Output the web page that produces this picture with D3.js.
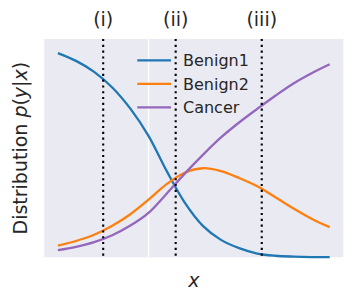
<!DOCTYPE html>
<html>
<head>
<meta charset="utf-8">
<script src="https://cdn.jsdelivr.net/npm/d3@7"></script>
<style>
  html, body { margin: 0; padding: 0; background: #fff; }
  svg { display: block; font-family: "DejaVu Sans", sans-serif; }
</style>
</head>
<body>
<svg id="chart"></svg>
<script>
// Values
const xs = [-1.0, -0.8, -0.6, -0.4, -0.2, 0.0, 0.2, 0.4, 0.6, 0.8, 1.0, 1.2, 1.4, 1.6, 1.8, 2.0];
const benign1 = [0.915, 0.880, 0.831, 0.761, 0.666, 0.544, 0.387, 0.245, 0.141, 0.078, 0.041, 0.017, 0.007, 0.003, 0.001, 0.0005];
const benign2 = [0.052, 0.073, 0.101, 0.141, 0.193, 0.258, 0.328, 0.379, 0.399, 0.386, 0.355, 0.318, 0.269, 0.219, 0.173, 0.135];
const cancer = [0.032, 0.047, 0.068, 0.099, 0.142, 0.199, 0.285, 0.375, 0.459, 0.537, 0.604, 0.665, 0.724, 0.779, 0.825, 0.865];

const seriesNames = ["Benign1", "Benign2", "Cancer"];
const seriesColors = ["#1f77b4", "#ff7f0e", "#9467bd"];

const markerX = [-0.5, 0.3, 1.25];
const markerLabels = ["(i)", "(ii)", "(iii)"];
const gridX = [0];

const width = 353;
const height = 300;
const margin = { top: 39, right: 9.7, bottom: 42.7, left: 44.3 };

const svg = d3.select("#chart")
    .attr("width", width)
    .attr("height", height);

const x = d3.scaleLinear()
    .domain([-1.15, 2.15])
    .range([margin.left, width - margin.right]);

const y = d3.scaleLinear()
    .domain([0, 0.978])
    .range([height - margin.bottom, margin.top]);

// Plot background (seaborn darkgrid)
svg.append("rect")
    .attr("x", margin.left)
    .attr("y", margin.top)
    .attr("width", width - margin.left - margin.right)
    .attr("height", height - margin.top - margin.bottom)
    .attr("fill", "#eaeaf2");

// Grid line
svg.selectAll(".grid")
    .data(gridX)
    .enter().append("line")
    .attr("x1", d => x(d))
    .attr("x2", d => x(d))
    .attr("y1", margin.top)
    .attr("y2", height - margin.bottom)
    .attr("stroke", "#fff")
    .attr("stroke-width", 1.3);

// Curves
const allSeries = [benign1, benign2, cancer];
const line = d3.line()
    .x((d, i) => x(xs[i]))
    .y(d => y(d))
    .curve(d3.curveCatmullRom.alpha(0.5));

svg.selectAll(".curve")
    .data(allSeries)
    .enter().append("path")
    .attr("fill", "none")
    .attr("stroke", (d, i) => seriesColors[i])
    .attr("stroke-width", 2.3)
    .attr("d", line);

// Dotted marker lines
svg.selectAll(".marker")
    .data(markerX)
    .enter().append("line")
    .attr("x1", d => x(d))
    .attr("x2", d => x(d))
    .attr("y1", margin.top)
    .attr("y2", height - margin.bottom)
    .attr("stroke", "#000")
    .attr("stroke-width", 2.1)
    .attr("stroke-dasharray", "2.1,3.7");

// Marker labels on top
svg.selectAll(".mlabel")
    .data(markerLabels)
    .enter().append("text")
    .attr("x", (d, i) => x(markerX[i]))
    .attr("y", 26)
    .attr("text-anchor", "middle")
    .attr("font-size", "19px")
    .attr("fill", "#262626")
    .text(d => d);

// Legend
const legend = svg.append("g");
seriesNames.forEach((name, i) => {
    const ly = 60.3 + i * 23.5;
    legend.append("line")
        .attr("x1", 137.3)
        .attr("x2", 171)
        .attr("y1", ly)
        .attr("y2", ly)
        .attr("stroke", seriesColors[i])
        .attr("stroke-width", 2.3);
    legend.append("text")
        .attr("x", 183)
        .attr("y", ly)
        .attr("dy", "0.36em")
        .attr("font-size", "16px")
        .attr("fill", "#262626")
        .text(name);
});

// Axis labels
svg.append("text")
    .attr("x", (margin.left + width - margin.right) / 2)
    .attr("y", 286.5)
    .attr("text-anchor", "middle")
    .attr("font-size", "19px")
    .attr("font-style", "italic")
    .attr("fill", "#262626")
    .text("x");

const ylab = svg.append("text")
    .attr("transform", `translate(27,${(margin.top + height - margin.bottom) / 2}) rotate(-90)`)
    .attr("text-anchor", "middle")
    .attr("font-size", "19px")
    .attr("fill", "#262626");
ylab.append("tspan").text("Distribution ");
ylab.append("tspan").attr("font-style", "italic").text("p");
ylab.append("tspan").text("(");
ylab.append("tspan").attr("font-style", "italic").text("y");
ylab.append("tspan").text("|");
ylab.append("tspan").attr("font-style", "italic").text("x");
ylab.append("tspan").text(")");
</script>
</body>
</html>
